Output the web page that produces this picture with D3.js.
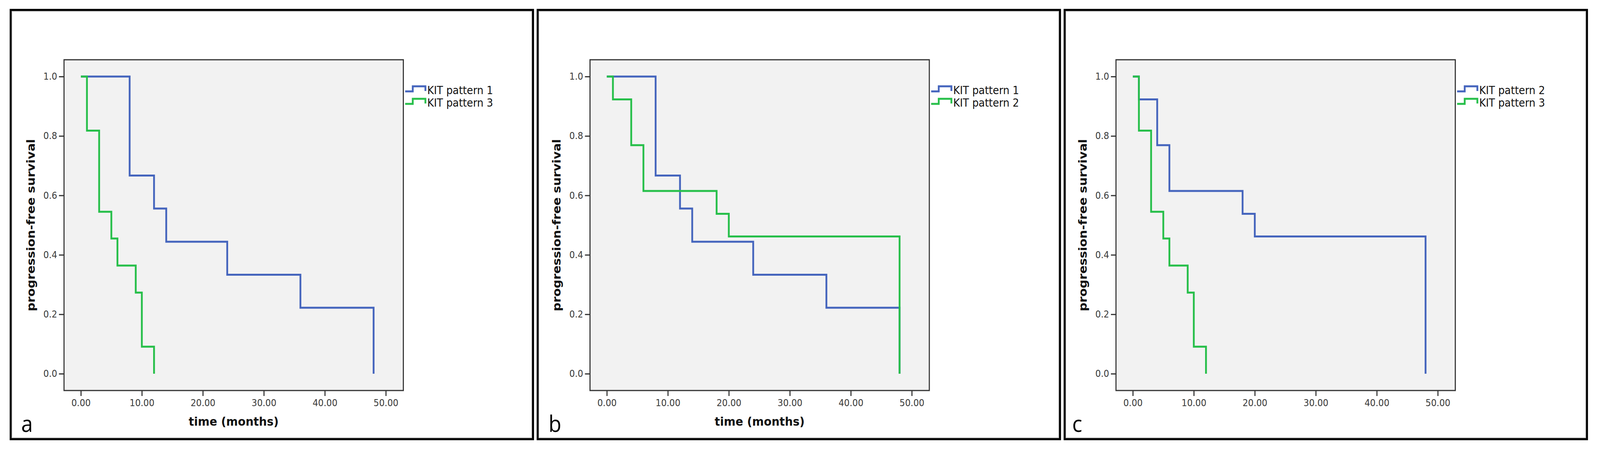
<!DOCTYPE html>
<html>
<head>
<meta charset="utf-8">
<script src="https://cdn.jsdelivr.net/npm/d3@7"></script>
<style>
  html, body { margin: 0; padding: 0; overflow: hidden; background: #fff; }
  #viz svg { display: block; }
</style>
</head>
<body>
<div id="viz"></div>
<script>
// Kaplan-Meier steps
const kit1Time = [0, 8, 12, 14, 24, 36, 48];
const kit1Surv = [1.0, 0.667, 0.556, 0.444, 0.333, 0.222, 0.0];

const kit2Time = [0, 1, 4, 6, 18, 20, 48];
const kit2Surv = [1.0, 0.923, 0.769, 0.615, 0.538, 0.462, 0.0];

const kit3Time = [0, 1, 3, 5, 6, 9, 10, 12];
const kit3Surv = [1.0, 0.818, 0.545, 0.455, 0.364, 0.273, 0.091, 0.0];

const panelLetters = ['a', 'b', 'c'];
const panelBlue = ['KIT pattern 1', 'KIT pattern 1', 'KIT pattern 2'];
const panelGreen = ['KIT pattern 3', 'KIT pattern 2', 'KIT pattern 3'];
const panelXTitle = [true, true, false];

const xTicks = [0, 10, 20, 30, 40, 50];
const yTicks = [0, 0.2, 0.4, 0.6, 0.8, 1.0];

const curves = {
    'KIT pattern 1': kit1Time.map((t, i) => [t, kit1Surv[i]]),
    'KIT pattern 2': kit2Time.map((t, i) => [t, kit2Surv[i]]),
    'KIT pattern 3': kit3Time.map((t, i) => [t, kit3Surv[i]])
};

const blue = '#4565bd';
const green = '#27bf4a';

const W = 4423;
const H = 1160;

// fit the drawing to whatever the window really is
const svg = d3.select('#viz')
      .append('svg:svg')
      .attr('viewBox', `0 0 ${W} ${H}`)
      .attr('preserveAspectRatio', 'none')
      .style('width', '100vw')
      .style('height', '100vh');

svg.append('svg:rect')
    .attr('width', W)
    .attr('height', H)
    .attr('fill', '#fff');

const borderStep = 1456.75;
const frameStep = 1454;
const labelDx = [29, 30, 21];

panelLetters.forEach((letter, i) => {
    const bx = 29.5 + i * borderStep;
    const fl = 177 + i * frameStep;
    const fw = 938;
    const ft = 153;
    const fb = 1000;

    const g = svg.append('svg:g');

    // outer panel box
    g.append('svg:rect')
        .attr('x', bx)
        .attr('y', 25.5)
        .attr('width', 1444)
        .attr('height', 1099)
        .attr('fill', '#fff')
        .attr('stroke', '#000')
        .attr('stroke-width', 5.5);

    g.append('svg:rect')
        .attr('x', bx + 3.5)
        .attr('y', 29)
        .attr('width', 1437)
        .attr('height', 1092)
        .attr('fill', 'none')
        .attr('stroke', '#b4b4b4')
        .attr('stroke-width', 1.5);

    // plot frame
    g.append('svg:rect')
        .attr('x', fl)
        .attr('y', ft)
        .attr('width', fw)
        .attr('height', fb - ft)
        .attr('fill', '#f2f2f2')
        .attr('stroke', '#333')
        .attr('stroke-width', 3);

    const x = d3.scaleLinear()
          .domain([0, 50])
          .range([fl + 46.5, fl + 889.5]);

    const y = d3.scaleLinear()
          .domain([0, 1])
          .range([957, 196]);

    const xAxis = g.append('svg:g')
          .attr('transform', `translate(0 ${fb})`)
          .call(d3.axisBottom(x)
                .tickValues(xTicks)
                .tickFormat(d3.format('.2f'))
                .tickSize(14)
                .tickSizeOuter(0)
                .tickPadding(9));

    const yAxis = g.append('svg:g')
          .attr('transform', `translate(${fl} 0)`)
          .call(d3.axisLeft(y)
                .tickValues(yTicks)
                .tickFormat(d3.format('.1f'))
                .tickSize(14)
                .tickSizeOuter(0)
                .tickPadding(5));

    [xAxis, yAxis].forEach(ax => {
        ax.select('.domain').remove();
        ax.selectAll('line')
            .attr('stroke', '#333')
            .attr('stroke-width', 3);
        ax.selectAll('text')
            .attr('fill', '#3a3a3a')
            .attr('font-family', 'DejaVu Sans, sans-serif')
            .attr('font-size', 24);
    });

    const line = d3.line()
          .x(d => x(d[0]))
          .y(d => y(d[1]))
          .curve(d3.curveStepAfter);

    g.append('svg:path')
        .attr('d', line(curves[panelBlue[i]]))
        .attr('fill', 'none')
        .attr('stroke', blue)
        .attr('stroke-width', 5);

    g.append('svg:path')
        .attr('d', line(curves[panelGreen[i]]))
        .attr('fill', 'none')
        .attr('stroke', green)
        .attr('stroke-width', 5);

    // legend
    const lx = fl + fw + 5;
    [[panelBlue[i], blue], [panelGreen[i], green]].forEach((row, k) => {
        const base = 241 + k * 32;
        g.append('svg:path')
            .attr('d', `M${lx} ${base - 7} H${lx + 21} V${base - 20} H${lx + 56} V${base - 8}`)
            .attr('fill', 'none')
            .attr('stroke', row[1])
            .attr('stroke-width', 5);
        g.append('svg:text')
            .attr('x', lx + 61)
            .attr('y', base)
            .attr('font-family', 'DejaVu Sans, sans-serif')
            .attr('font-size', 28)
            .attr('fill', '#111')
            .text(row[0]);
    });

    // axis titles
    g.append('svg:text')
        .attr('transform', `translate(${fl - 92} ${(ft + fb) / 2}) rotate(-90)`)
        .attr('text-anchor', 'middle')
        .attr('dominant-baseline', 'central')
        .attr('font-family', 'DejaVu Sans, sans-serif')
        .attr('font-weight', 'bold')
        .attr('font-size', 31)
        .attr('fill', '#111')
        .text('progression-free survival');

    if (panelXTitle[i]) {
        g.append('svg:text')
            .attr('x', fl + fw / 2)
            .attr('y', 1090)
            .attr('text-anchor', 'middle')
            .attr('font-family', 'DejaVu Sans, sans-serif')
            .attr('font-weight', 'bold')
            .attr('font-size', 31)
            .attr('fill', '#111')
            .text('time (months)');
    }

    g.append('svg:text')
        .attr('x', bx + labelDx[i])
        .attr('y', 1106)
        .attr('font-family', 'Open Sans, sans-serif')
        .attr('font-size', 58)
        .attr('fill', '#000')
        .text(letter);
});
</script>
</body>
</html>
